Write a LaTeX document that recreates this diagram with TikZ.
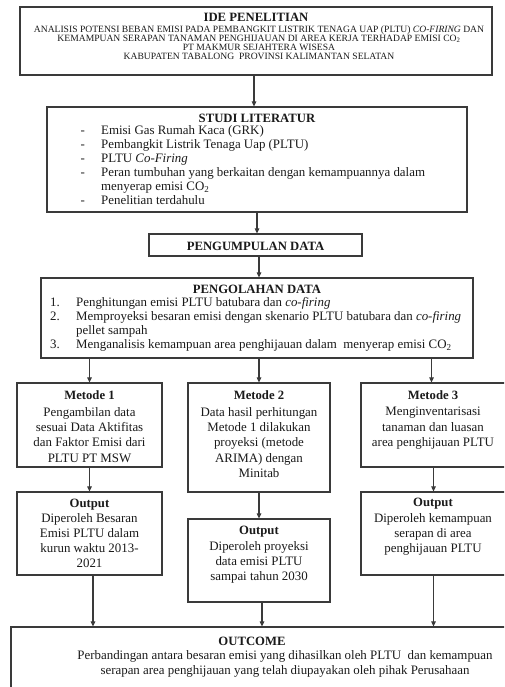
\documentclass[tikz,border=0pt]{standalone}
\usepackage{fontspec}
\setmainfont{Liberation Serif}
\usetikzlibrary{arrows.meta}
\definecolor{ln}{HTML}{3A3A3A}
\definecolor{tx}{HTML}{1A1A1A}
\begin{document}
\begin{tikzpicture}[x=1pt,y=-1pt,
  box/.style={draw=ln,line width=1.2pt,inner sep=0pt,fill=white},
  arr/.style={draw=ln,line width=1.1pt,-{Triangle[length=5pt,width=4.5pt]}},
  ttl/.style={font=\fontsize{12.7}{14}\selectfont\bfseries,text=tx,inner sep=0pt},
  body/.style={text=tx,inner sep=0pt,align=center,anchor=north,font=\fontsize{12.9}{15.3}\selectfont},
  lst/.style={text=tx,inner sep=0pt,align=left,anchor=north west},
]
\path[use as bounding box] (0,0) rectangle (504,687);
\clip (0,0) rectangle (504,687);

% boxes
\node[box,minimum width=472pt,minimum height=68pt] (ide) at (256,41) {};
\node[box,minimum width=420pt,minimum height=105pt] (studi) at (257,159.5) {};
\node[box,minimum width=213pt,minimum height=22pt] (kumpul) at (255.5,245) {};
\node[box,minimum width=432pt,minimum height=80pt] (olah) at (257,318) {};
\node[box,minimum width=145pt,minimum height=84pt] (m1) at (89.5,425) {};
\node[box,minimum width=142pt,minimum height=109pt] (m2) at (259,437.5) {};
\node[box,minimum width=145pt,minimum height=84pt] (m3) at (433.5,425) {};
\node[box,minimum width=145pt,minimum height=83pt] (o1) at (89.5,533.5) {};
\node[box,minimum width=142pt,minimum height=83pt] (o2) at (259,560.5) {};
\node[box,minimum width=145pt,minimum height=83pt] (o3) at (433.5,533.5) {};
\node[box,minimum width=500pt,minimum height=80pt] (outc) at (261,667) {};

% connectors
\draw[arr] ([xshift=-2pt]ide.south) -- ([xshift=-2pt]ide.south |- studi.north);
\draw[arr] (studi.south) -- (studi.south |- kumpul.north);
\draw[arr] ([xshift=3.5pt]kumpul.south) -- ([xshift=3.5pt]kumpul.south |- olah.north);
\draw[arr] (m1.north |- olah.south) -- (m1.north);
\draw[arr] (m2.north |- olah.south) -- (m2.north);
\draw[arr] ([xshift=-2pt]m3.north |- olah.south) -- ([xshift=-2pt]m3.north);
\draw[arr] (m1.south) -- (o1.north);
\draw[arr] (m2.south) -- (o2.north);
\draw[arr] (m3.south) -- (o3.north);
\draw[arr] ([xshift=3.5pt]o1.south) -- ([xshift=3.5pt]o1.south |- outc.north);
\draw[arr] ([xshift=3pt]o2.south) -- ([xshift=3pt]o2.south |- outc.north);
\draw[arr] (o3.south) -- (o3.south |- outc.north);

% texts
\node[ttl] (idet) at (256,17) {IDE PENELITIAN};
\node[body,font=\fontsize{9.6}{9}\selectfont] (ides) at (259,25.5) {ANALISIS POTENSI BEBAN EMISI PADA PEMBANGKIT LISTRIK TENAGA UAP (PLTU) \textit{CO-FIRING} DAN\\
KEMAMPUAN SERAPAN TANAMAN PENGHIJAUAN DI AREA KERJA TERHADAP EMISI CO\textsubscript{2}\\
PT MAKMUR SEJAHTERA WISESA\\
KABUPATEN TABALONG\ \ PROVINSI KALIMANTAN SELATAN};

\node[ttl] (studit) at (257,118) {STUDI LITERATUR};
\node[lst,font=\fontsize{12.9}{14}\selectfont] (studil) at (80.5,125.5) {\makebox[20.5pt][l]{-}Emisi Gas Rumah Kaca (GRK)\\
\makebox[20.5pt][l]{-}Pembangkit Listrik Tenaga Uap (PLTU)\\
\makebox[20.5pt][l]{-}PLTU \textit{Co-Firing}\\
\makebox[20.5pt][l]{-}Peran tumbuhan yang berkaitan dengan kemampuannya dalam\\
\hspace*{20.5pt}menyerap emisi CO\textsubscript{2}\\
\makebox[20.5pt][l]{-}Penelitian terdahulu};

\node[ttl] (kumpult) at (255.5,246) {PENGUMPULAN DATA};

\node[ttl] (olaht) at (257,289) {PENGOLAHAN DATA};
\node[lst,font=\fontsize{12.9}{13.8}\selectfont] (olahl) at (50,297.5) {\makebox[26pt][l]{1.}Penghitungan emisi PLTU batubara dan \textit{co-firing}\\
\makebox[26pt][l]{2.}Memproyeksi besaran emisi dengan skenario PLTU batubara dan \textit{co-firing}\\
\hspace*{26pt}pellet sampah\\
\makebox[26pt][l]{3.}Menganalisis kemampuan area penghijauan dalam\ \ menyerap emisi CO\textsubscript{2}};

\node[ttl] (m1t) at (89.5,395) {Metode 1};
\node[body] (m1b) at (89.5,407) {Pengambilan data\\ sesuai Data Aktifitas\\ dan Faktor Emisi dari\\ PLTU PT MSW};
\node[ttl] (m2t) at (259,395) {Metode 2};
\node[body] (m2b) at (259,407) {Data hasil perhitungan\\ Metode 1 dilakukan\\ proyeksi (metode\\ ARIMA) dengan\\ Minitab};
\node[ttl] (m3t) at (433,395) {Metode 3};
\node[body] (m3b) at (433,407) {Menginventarisasi\\ tanaman dan luasan\\ area penghijauan PLTU};

\node[ttl] (o1t) at (89.5,505) {Output};
\node[body,font=\fontsize{12.9}{15}\selectfont] (o1b) at (89.5,513) {Diperoleh Besaran\\ Emisi PLTU dalam\\ kurun waktu 2013-\\ 2021};
\node[ttl] (o2t) at (259,532) {Output};
\node[body] (o2b) at (259,541) {Diperoleh proyeksi\\ data emisi PLTU\\ sampai tahun 2030};
\node[ttl] (o3t) at (433,504) {Output};
\node[body,font=\fontsize{12.9}{15}\selectfont] (o3b) at (433,513) {Diperoleh kemampuan\\ serapan di area\\ penghijauan PLTU};

\node[ttl] (outct) at (252,641) {OUTCOME};
\node[body,font=\fontsize{12.9}{14.5}\selectfont] (outcb) at (285,650.5) {Perbandingan antara besaran emisi yang dihasilkan oleh PLTU\ \ dan kemampuan\\ serapan area penghijauan yang telah diupayakan oleh pihak Perusahaan};
\end{tikzpicture}
\end{document}
